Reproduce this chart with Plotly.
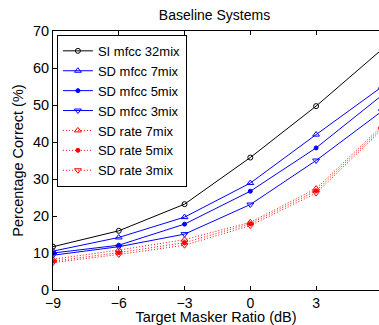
import plotly.graph_objects as go

tmr = [-9, -6, -3, 0, 3, 6]
si_mfcc_32 = [11.7, 16.0, 23.2, 35.8, 49.7, 65.0]
sd_mfcc_7 = [10.5, 14.2, 19.7, 28.9, 42.0, 54.9]
sd_mfcc_5 = [10.0, 12.1, 17.8, 26.7, 38.4, 52.6]
sd_mfcc_3 = [9.4, 11.7, 15.1, 23.1, 35.0, 48.3]
sd_rate_7 = [8.3, 10.8, 13.6, 18.3, 27.4, 44.3]
sd_rate_5 = [7.8, 10.1, 12.8, 17.9, 26.8, 43.8]
sd_rate_3 = [7.4, 9.6, 12.1, 17.4, 26.2, 43.3]

xticks = [-9, -6, -3, 0, 3, 6]
xtick_labels = ["\u22129", "\u22126", "\u22123", "0", "3", "6"]
yticks = [0, 10, 20, 30, 40, 50, 60, 70]

series = [
    ("SI mfcc 32mix", si_mfcc_32, "black", "solid", "circle-open", 5),
    ("SD mfcc 7mix", sd_mfcc_7, "blue", "solid", "triangle-up-open", 6),
    ("SD mfcc 5mix", sd_mfcc_5, "blue", "solid", "circle", 4),
    ("SD mfcc 3mix", sd_mfcc_3, "blue", "solid", "triangle-down-open", 6),
    ("SD rate 7mix", sd_rate_7, "red", "1px,2px", "triangle-up-open", 6),
    ("SD rate 5mix", sd_rate_5, "red", "1px,2px", "circle", 4),
    ("SD rate 3mix", sd_rate_3, "red", "1px,2px", "triangle-down-open", 6),
]

fig = go.Figure()
for name, ys, color, dash, sym, sz in series:
    fig.add_trace(go.Scatter(
        x=tmr, y=ys, name=name, mode="lines+markers",
        line=dict(color=color, width=1, dash=dash),
        marker=dict(symbol=sym, size=sz, color=color, line=dict(color=color, width=1)),
    ))

font = "Liberation Sans, Arial, Helvetica, sans-serif"
fig.update_layout(
    width=379, height=325,
    margin=dict(l=53, r=0, t=31, b=35),
    paper_bgcolor="white", plot_bgcolor="white",
    font=dict(family=font, size=14, color="black"),
    title=dict(text="Baseline Systems", x=0.566, xanchor="center", y=0.954, yanchor="middle",
               font=dict(size=14)),
    showlegend=True,
    legend=dict(x=0.012, y=0.985, xanchor="left", yanchor="top",
                bgcolor="white", bordercolor="black", borderwidth=1,
                font=dict(size=13), tracegroupgap=0),
    xaxis=dict(range=[-9, 5.87], tickvals=xticks, ticktext=xtick_labels,
               ticks="inside", ticklen=4, tickcolor="black", showline=True,
               linecolor="black", linewidth=1, mirror="ticks", showgrid=False,
               zeroline=False,
               title=dict(text="Target Masker Ratio (dB)", standoff=0, font=dict(size=14.5)),
               tickfont=dict(size=14), automargin=False),
    yaxis=dict(range=[0, 70], tickvals=yticks, ticks="inside", ticklen=4,
               tickcolor="black", showline=True, linecolor="black", linewidth=1,
               mirror=False, showgrid=False, zeroline=False,
               title=dict(text="Percentage Correct (%)", standoff=5, font=dict(size=14.5)),
               tickfont=dict(size=14.5), automargin=False),
)
fig.write_html("out.html", config={"displayModeBar": False},
               post_script="document.body.style.margin='0';document.body.style.overflow='hidden';")
